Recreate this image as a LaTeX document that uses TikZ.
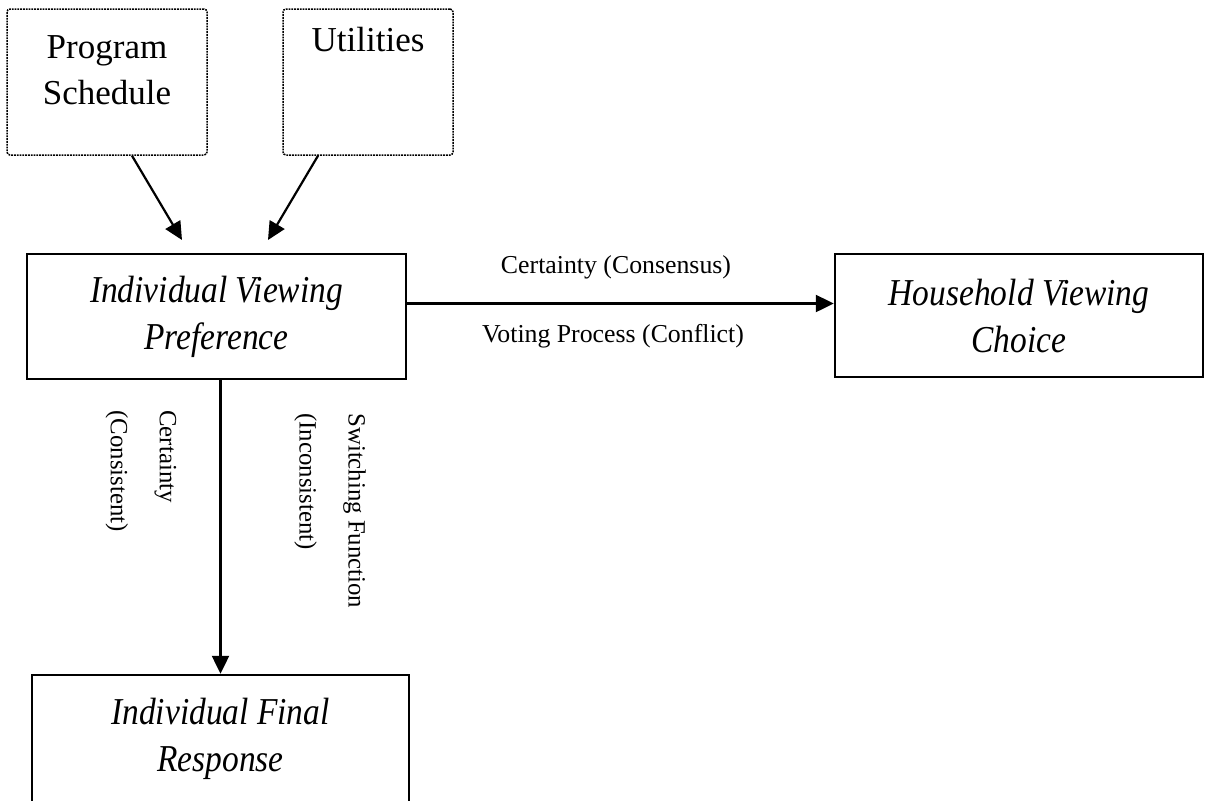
\documentclass[tikz,border=0pt]{standalone}
\usepackage{fontspec}
\setmainfont{Liberation Serif}
\newfontfamily\boxfont{Liberation Serif}[FakeStretch=0.88]
\usetikzlibrary{arrows.meta}

\tikzset{
  dotbox/.style={draw, line width=0.75pt, dash pattern=on 0.9pt off 0.5pt,
    rounded corners=1.5pt, inner sep=0pt},
  toptext/.style={anchor=north, inner sep=0pt, align=center,
    font=\fontsize{17.5}{23}\selectfont},
  mainbox/.style={draw, line width=1.2pt, inner sep=0pt, align=center,
    font=\boxfont\itshape\fontsize{19}{23.5}\selectfont},
  edgelabel/.style={inner sep=0pt, anchor=base,
    font=\fontsize{12.9}{15}\selectfont},
  sidelabel/.style={rotate=-90, anchor=west, inner sep=0pt, align=left,
    font=\fontsize{12.4}{24.5}\selectfont},
  arr/.style={line width=1.1pt, -{Triangle[length=9pt,width=8.5pt]}},
}

\begin{document}
\begin{tikzpicture}[x=0.5pt, y=-0.5pt]
\useasboundingbox (0,0) rectangle (1209,800);
\clip (0,0) rectangle (1209,800);

% input boxes
\node[dotbox, minimum width=100pt, minimum height=73pt] (ps) at (107,82) {};
\node[toptext] (pstext) at (107,35) {Program\\Schedule};
\node[dotbox, minimum width=85pt, minimum height=73pt] (ut) at (368,82) {};
\node[toptext] (uttext) at (368,27) {Utilities};

% main boxes
\node[mainbox, minimum width=189.5pt, minimum height=62.5pt] (ivp) at (216.5,316.5)
  {Individual Viewing\\Preference};
\node[mainbox, minimum width=184pt, minimum height=61.5pt] (hvc) at (1019,315.5)
  {Household Viewing\\Choice};
\node[mainbox, minimum width=188.5pt, minimum height=63.5pt] (ifr) at (220.5,738.5)
  {Individual Final\\Response};

% arrow end points above the preference box
\coordinate (psend) at (182,240);
\coordinate (utend) at (268,240);

\draw[arr] ([xshift=12.5pt]ps.south) -- (psend);
\draw[arr] ([xshift=-25pt]ut.south) -- (utend);
\draw[arr] ([yshift=6.5pt]ivp.east) -- ([yshift=6.5pt]ivp.east -| hvc.west);
\draw[arr] (ivp.south -| ifr.north) -- (ifr.north);

% connector labels
\node[edgelabel] (cons) at (616,273) {Certainty (Consensus)};
\node[edgelabel] (conf) at (613,342) {Voting Process (Conflict)};
\node[sidelabel] (cert) at (141,410) {Certainty\\(Consistent)};
\node[sidelabel] (swit) at (330,413) {Switching Function\\(Inconsistent)};
\end{tikzpicture}
\end{document}
